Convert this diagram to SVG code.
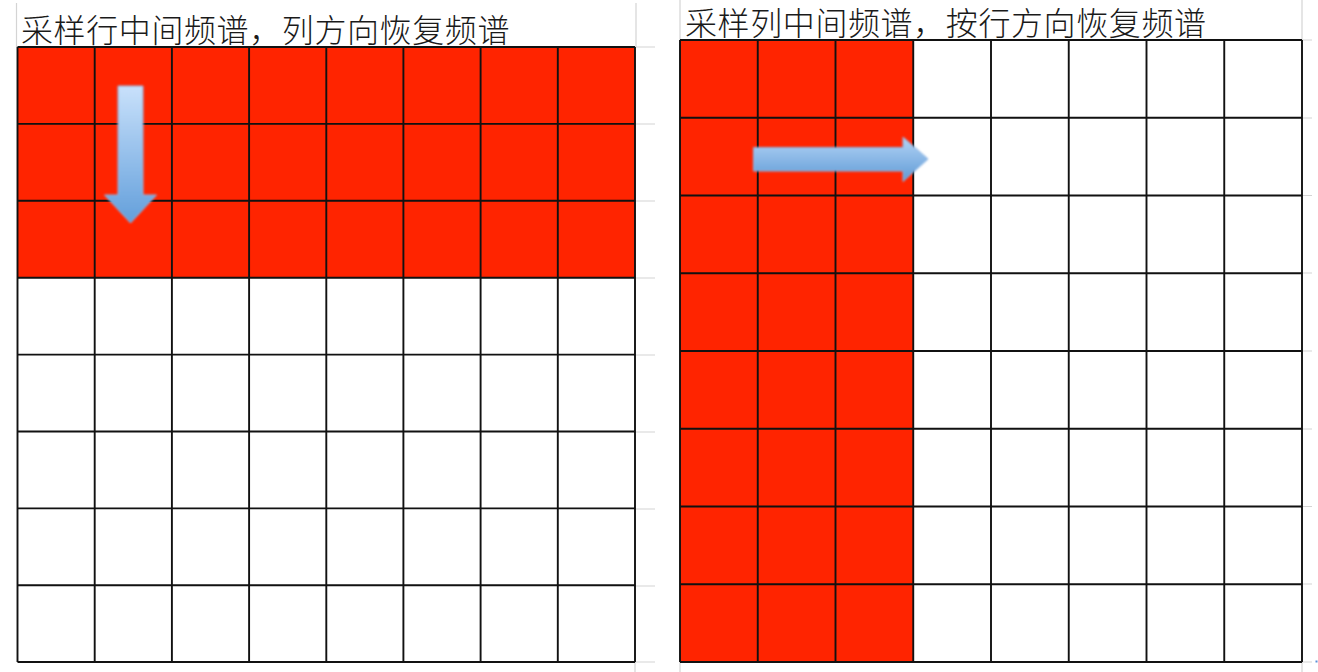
<svg xmlns="http://www.w3.org/2000/svg" width="1318" height="672" viewBox="0 0 1318 672">
<defs>
<style>
.title{font-family:"Noto Sans CJK SC","Noto Sans CJK JP",sans-serif;font-size:32px;font-weight:300;fill:#1a1a1a;letter-spacing:0.6px}
.grid{stroke:#111111;stroke-width:1.9;fill:none}
.gray{stroke:#d4d4d4;stroke-width:1.2;fill:none}
.red{fill:#ff2400}
</style>
<linearGradient id="gDown" x1="0" y1="0" x2="0" y2="1">
<stop offset="0" stop-color="#c9e1fb"/>
<stop offset="1" stop-color="#639fdb"/>
</linearGradient>
<linearGradient id="gRight" x1="0" y1="0" x2="0" y2="1">
<stop offset="0" stop-color="#b4d4f5"/>
<stop offset="1" stop-color="#5f9ad6"/>
</linearGradient>
<filter id="soft" x="-20%" y="-20%" width="140%" height="140%">
<feGaussianBlur stdDeviation="0.8"/>
</filter>
</defs>
<rect width="1318" height="672" fill="#ffffff"/>

<g id="background-lines">
<path class="gray" d="M16.5 3V47M636 3V47M635 47H655M635 124H655M635 201H655M635 278H655M635 355H655M635 432H655M635 509H655M635 586H655M635 662H655M635 662V672M680 0V40M680 662V672M1302 0V40M1302 40H1312M1302 118H1312M1302 195.5H1312M1302 273H1312M1302 351H1312M1302 429H1312M1302 506.5H1312M1302 584H1312M1302 662H1312M1302 662V672"/>
</g>

<g id="left-title">
<text class="title" x="21" y="42">采样行中间频谱，列方向恢复频谱</text>
</g>

<g id="left-grid">
<rect class="red" x="17.5" y="47" width="617.5" height="230.7"/>
<path class="grid" d="M17.5 47H635M17.5 123.9H635M17.5 200.8H635M17.5 277.7H635M17.5 354.6H635M17.5 431.5H635M17.5 508.4H635M17.5 585.3H635M17.5 662H635M17.5 47V662M94.7 47V662M171.9 47V662M249.1 47V662M326.3 47V662M403.4 47V662M480.6 47V662M557.8 47V662M635 47V662"/>
</g>

<g id="right-title">
<text class="title" x="685" y="35">采样列中间频谱，按行方向恢复频谱</text>
</g>

<g id="right-grid">
<rect class="red" x="680" y="40" width="233.25" height="622"/>
<path class="grid" d="M680 40H1302M680 117.75H1302M680 195.5H1302M680 273.25H1302M680 351H1302M680 428.75H1302M680 506.5H1302M680 584.25H1302M680 662H1302M680 40V662M757.75 40V662M835.5 40V662M913.25 40V662M991 40V662M1068.75 40V662M1146.5 40V662M1224.25 40V662M1302 40V662"/>
</g>

<g id="arrows">
<g id="arrow-down">
<path d="M118 86H143V195H156.5L130.5 223L104.5 195H118Z" fill="url(#gDown)" stroke="#8fb8e6" stroke-width="1" filter="url(#soft)"/>
</g>
<g id="arrow-right">
<path d="M753.5 147.5H903V137L928 159L903 181.5V171H753.5Z" fill="url(#gRight)" stroke="#8ab4e3" stroke-width="1" filter="url(#soft)"/>
</g>
</g>

<g id="mark">
<rect x="1315.5" y="660.5" width="2" height="2" fill="#5b8fd6"/>
</g>
</svg>
